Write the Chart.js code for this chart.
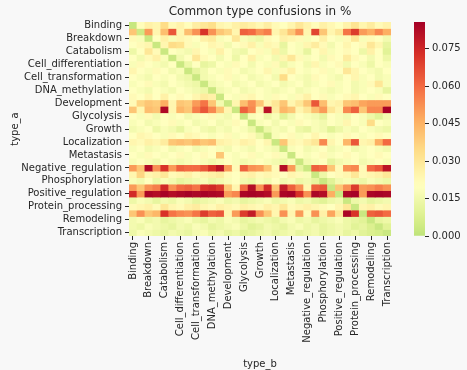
<!DOCTYPE html>
<html>
<head>
<meta charset="utf-8">
<script src="https://cdn.jsdelivr.net/npm/chart.js@4"></script>
<style>
  html, body { margin: 0; padding: 0; background: #f8f8f8; }
  #wrap { position: relative; width: 467px; height: 370px; }
  #heat { position: absolute; left: 0; top: 0; }
  #cbar { position: absolute; left: 395px; top: 0; }
</style>
</head>
<body>
<div id="wrap">
  <canvas id="heat" width="467" height="370"></canvas>
  <canvas id="cbar" width="72" height="370"></canvas>
</div>
<script>
// event types, same order on both axes (only every other one gets a label)
const typeA = ["Binding", "Blood_vessel_development", "Breakdown", "Carcinogenesis", "Catabolism",
  "Cell_death", "Cell_differentiation", "Cell_proliferation", "Cell_transformation", "DNA_demethylation",
  "DNA_methylation", "Dephosphorylation", "Development", "Gene_expression", "Glycolysis", "Glycosylation",
  "Growth", "Infection", "Localization", "Metabolism", "Metastasis", "Mutation", "Negative_regulation",
  "Pathway", "Phosphorylation", "Planned_process", "Positive_regulation", "Protein_catabolism",
  "Protein_processing", "Regulation", "Remodeling", "Synthesis", "Transcription"];
const typeB = typeA.slice();

// one row per type_a, fraction of confusions with each type_b
const binding = [0.002, 0.021, 0.026, 0.024, 0.034, 0.022, 0.025, 0.021, 0.027, 0.030, 0.033, 0.024, 0.022, 0.026, 0.028, 0.026, 0.023, 0.027, 0.022, 0.020, 0.024, 0.030, 0.025, 0.021, 0.026, 0.023, 0.020, 0.025, 0.031, 0.024, 0.028, 0.022, 0.025];
const bloodVesselDevelopment = [0.040, 0.004, 0.050, 0.024, 0.042, 0.064, 0.024, 0.042, 0.052, 0.072, 0.052, 0.040, 0.036, 0.024, 0.062, 0.060, 0.052, 0.056, 0.024, 0.030, 0.040, 0.052, 0.024, 0.068, 0.040, 0.024, 0.030, 0.058, 0.070, 0.050, 0.046, 0.054, 0.046];
const breakdown = [0.022, 0.018, 0.003, 0.020, 0.026, 0.018, 0.024, 0.022, 0.020, 0.026, 0.028, 0.018, 0.020, 0.030, 0.018, 0.016, 0.014, 0.022, 0.020, 0.026, 0.024, 0.022, 0.018, 0.020, 0.026, 0.020, 0.018, 0.022, 0.030, 0.018, 0.022, 0.020, 0.016];
const carcinogenesis = [0.020, 0.022, 0.024, 0.003, 0.024, 0.034, 0.032, 0.022, 0.018, 0.020, 0.024, 0.022, 0.016, 0.020, 0.022, 0.026, 0.018, 0.024, 0.022, 0.012, 0.020, 0.018, 0.024, 0.028, 0.022, 0.016, 0.020, 0.024, 0.020, 0.022, 0.030, 0.024, 0.012];
const catabolism = [0.014, 0.020, 0.030, 0.022, 0.003, 0.020, 0.018, 0.016, 0.024, 0.020, 0.018, 0.026, 0.020, 0.016, 0.014, 0.020, 0.022, 0.018, 0.026, 0.014, 0.020, 0.018, 0.012, 0.020, 0.024, 0.018, 0.020, 0.022, 0.020, 0.014, 0.026, 0.020, 0.010];
const cellDeath = [0.020, 0.016, 0.022, 0.026, 0.018, 0.003, 0.016, 0.020, 0.030, 0.022, 0.020, 0.016, 0.020, 0.014, 0.020, 0.026, 0.018, 0.020, 0.016, 0.024, 0.030, 0.022, 0.018, 0.020, 0.016, 0.022, 0.020, 0.028, 0.022, 0.020, 0.016, 0.020, 0.014];
const cellDifferentiation = [0.018, 0.022, 0.020, 0.018, 0.016, 0.020, 0.003, 0.014, 0.020, 0.012, 0.014, 0.020, 0.018, 0.022, 0.020, 0.016, 0.020, 0.018, 0.022, 0.014, 0.018, 0.020, 0.016, 0.024, 0.018, 0.020, 0.022, 0.016, 0.020, 0.018, 0.014, 0.020, 0.018];
const cellProliferation = [0.024, 0.020, 0.018, 0.022, 0.020, 0.016, 0.018, 0.003, 0.012, 0.016, 0.020, 0.018, 0.022, 0.020, 0.016, 0.018, 0.020, 0.024, 0.018, 0.022, 0.026, 0.020, 0.018, 0.020, 0.022, 0.018, 0.020, 0.030, 0.024, 0.020, 0.018, 0.016, 0.020];
const cellTransformation = [0.020, 0.018, 0.016, 0.020, 0.018, 0.020, 0.016, 0.014, 0.003, 0.016, 0.018, 0.020, 0.022, 0.018, 0.020, 0.016, 0.018, 0.020, 0.016, 0.034, 0.020, 0.018, 0.016, 0.022, 0.020, 0.018, 0.016, 0.020, 0.024, 0.018, 0.020, 0.016, 0.018];
const dnaDemethylation = [0.018, 0.020, 0.022, 0.018, 0.016, 0.020, 0.018, 0.016, 0.014, 0.003, 0.016, 0.018, 0.020, 0.016, 0.018, 0.020, 0.016, 0.018, 0.020, 0.016, 0.018, 0.020, 0.016, 0.018, 0.020, 0.022, 0.018, 0.020, 0.016, 0.018, 0.022, 0.030, 0.018];
const dnaMethylation = [0.020, 0.018, 0.016, 0.020, 0.018, 0.016, 0.020, 0.018, 0.016, 0.014, 0.003, 0.016, 0.018, 0.020, 0.016, 0.018, 0.020, 0.018, 0.016, 0.018, 0.020, 0.016, 0.018, 0.020, 0.018, 0.016, 0.018, 0.020, 0.016, 0.018, 0.020, 0.018, 0.012];
const dephosphorylation = [0.022, 0.020, 0.024, 0.020, 0.026, 0.020, 0.022, 0.020, 0.024, 0.028, 0.026, 0.003, 0.020, 0.018, 0.022, 0.024, 0.020, 0.018, 0.022, 0.020, 0.018, 0.022, 0.026, 0.020, 0.022, 0.018, 0.020, 0.022, 0.024, 0.020, 0.018, 0.022, 0.020];
const development = [0.022, 0.036, 0.040, 0.038, 0.046, 0.024, 0.040, 0.038, 0.050, 0.058, 0.040, 0.016, 0.003, 0.024, 0.042, 0.052, 0.040, 0.024, 0.030, 0.040, 0.024, 0.030, 0.040, 0.064, 0.042, 0.024, 0.026, 0.040, 0.042, 0.048, 0.050, 0.050, 0.050];
const geneExpression = [0.040, 0.024, 0.042, 0.040, 0.083, 0.024, 0.044, 0.040, 0.056, 0.064, 0.054, 0.040, 0.024, 0.003, 0.062, 0.054, 0.024, 0.080, 0.028, 0.044, 0.040, 0.024, 0.030, 0.042, 0.050, 0.030, 0.024, 0.054, 0.062, 0.040, 0.054, 0.054, 0.085];
const glycolysis = [0.020, 0.018, 0.022, 0.016, 0.020, 0.018, 0.020, 0.016, 0.018, 0.020, 0.022, 0.018, 0.016, 0.020, 0.003, 0.018, 0.020, 0.014, 0.018, 0.010, 0.016, 0.020, 0.018, 0.016, 0.012, 0.020, 0.018, 0.016, 0.020, 0.018, 0.014, 0.010, 0.016];
const glycosylation = [0.018, 0.020, 0.016, 0.018, 0.020, 0.022, 0.018, 0.020, 0.016, 0.018, 0.020, 0.016, 0.018, 0.022, 0.020, 0.003, 0.018, 0.020, 0.016, 0.020, 0.018, 0.022, 0.020, 0.018, 0.016, 0.020, 0.018, 0.024, 0.020, 0.018, 0.034, 0.020, 0.018];
const growth = [0.016, 0.018, 0.020, 0.014, 0.018, 0.016, 0.012, 0.018, 0.020, 0.016, 0.014, 0.018, 0.016, 0.020, 0.018, 0.014, 0.003, 0.014, 0.018, 0.016, 0.020, 0.014, 0.012, 0.018, 0.016, 0.010, 0.014, 0.018, 0.016, 0.020, 0.018, 0.016, 0.014];
const infection = [0.020, 0.024, 0.022, 0.020, 0.018, 0.022, 0.020, 0.024, 0.022, 0.020, 0.018, 0.020, 0.022, 0.018, 0.020, 0.022, 0.014, 0.003, 0.018, 0.020, 0.022, 0.018, 0.020, 0.024, 0.020, 0.018, 0.020, 0.022, 0.020, 0.018, 0.020, 0.022, 0.020];
const localization = [0.024, 0.022, 0.026, 0.024, 0.028, 0.040, 0.042, 0.040, 0.044, 0.040, 0.042, 0.026, 0.024, 0.022, 0.026, 0.024, 0.020, 0.024, 0.003, 0.040, 0.024, 0.022, 0.026, 0.030, 0.054, 0.024, 0.020, 0.044, 0.064, 0.024, 0.026, 0.046, 0.060];
const metabolism = [0.018, 0.020, 0.016, 0.018, 0.020, 0.016, 0.018, 0.020, 0.016, 0.018, 0.020, 0.018, 0.016, 0.020, 0.018, 0.016, 0.020, 0.018, 0.016, 0.003, 0.018, 0.020, 0.016, 0.018, 0.020, 0.016, 0.018, 0.020, 0.016, 0.018, 0.020, 0.018, 0.016];
const metastasis = [0.020, 0.018, 0.022, 0.020, 0.018, 0.020, 0.022, 0.018, 0.020, 0.022, 0.020, 0.040, 0.020, 0.018, 0.020, 0.022, 0.018, 0.020, 0.022, 0.018, 0.003, 0.020, 0.018, 0.020, 0.022, 0.018, 0.020, 0.022, 0.020, 0.018, 0.020, 0.022, 0.020];
const mutation = [0.018, 0.020, 0.018, 0.016, 0.020, 0.018, 0.016, 0.018, 0.020, 0.018, 0.016, 0.018, 0.020, 0.018, 0.016, 0.018, 0.020, 0.018, 0.016, 0.014, 0.018, 0.003, 0.016, 0.018, 0.020, 0.012, 0.016, 0.018, 0.020, 0.016, 0.018, 0.020, 0.018];
const negativeRegulation = [0.050, 0.040, 0.082, 0.052, 0.072, 0.050, 0.062, 0.060, 0.060, 0.064, 0.072, 0.080, 0.050, 0.022, 0.062, 0.052, 0.050, 0.040, 0.022, 0.082, 0.050, 0.012, 0.003, 0.062, 0.060, 0.040, 0.022, 0.052, 0.054, 0.022, 0.060, 0.064, 0.080];
const pathway = [0.024, 0.036, 0.024, 0.026, 0.030, 0.022, 0.024, 0.026, 0.022, 0.024, 0.026, 0.028, 0.022, 0.020, 0.024, 0.026, 0.022, 0.024, 0.022, 0.020, 0.024, 0.022, 0.018, 0.003, 0.014, 0.020, 0.022, 0.024, 0.030, 0.022, 0.024, 0.026, 0.030];
const phosphorylation = [0.018, 0.016, 0.020, 0.014, 0.018, 0.016, 0.012, 0.014, 0.016, 0.018, 0.014, 0.016, 0.018, 0.020, 0.016, 0.014, 0.018, 0.016, 0.020, 0.016, 0.018, 0.014, 0.016, 0.012, 0.003, 0.010, 0.016, 0.018, 0.016, 0.014, 0.018, 0.016, 0.014];
const plannedProcess = [0.050, 0.040, 0.052, 0.056, 0.074, 0.052, 0.060, 0.062, 0.058, 0.072, 0.074, 0.070, 0.040, 0.024, 0.060, 0.082, 0.052, 0.074, 0.040, 0.078, 0.062, 0.052, 0.024, 0.062, 0.064, 0.003, 0.040, 0.052, 0.070, 0.050, 0.052, 0.056, 0.052];
const positiveRegulation = [0.074, 0.050, 0.084, 0.082, 0.085, 0.082, 0.084, 0.0856, 0.084, 0.085, 0.084, 0.083, 0.050, 0.054, 0.084, 0.085, 0.084, 0.082, 0.050, 0.084, 0.085, 0.072, 0.052, 0.084, 0.082, 0.046, 0.003, 0.084, 0.085, 0.050, 0.084, 0.085, 0.084];
const proteinCatabolism = [0.014, 0.018, 0.016, 0.012, 0.016, 0.014, 0.018, 0.016, 0.012, 0.014, 0.016, 0.018, 0.014, 0.016, 0.012, 0.014, 0.016, 0.018, 0.014, 0.016, 0.018, 0.014, 0.016, 0.012, 0.010, 0.014, 0.016, 0.003, 0.014, 0.016, 0.012, 0.014, 0.016];
const proteinProcessing = [0.022, 0.024, 0.026, 0.022, 0.030, 0.024, 0.022, 0.026, 0.028, 0.024, 0.022, 0.026, 0.024, 0.022, 0.026, 0.024, 0.022, 0.026, 0.024, 0.030, 0.022, 0.024, 0.026, 0.024, 0.022, 0.020, 0.024, 0.030, 0.003, 0.024, 0.026, 0.022, 0.024];
const regulation = [0.040, 0.052, 0.040, 0.044, 0.072, 0.058, 0.054, 0.052, 0.058, 0.070, 0.062, 0.064, 0.024, 0.050, 0.070, 0.078, 0.052, 0.040, 0.024, 0.052, 0.024, 0.050, 0.022, 0.052, 0.026, 0.048, 0.030, 0.084, 0.072, 0.003, 0.062, 0.064, 0.060];
const remodeling = [0.016, 0.018, 0.014, 0.016, 0.012, 0.014, 0.016, 0.018, 0.014, 0.012, 0.016, 0.014, 0.018, 0.016, 0.012, 0.014, 0.016, 0.014, 0.012, 0.016, 0.018, 0.014, 0.016, 0.012, 0.014, 0.016, 0.018, 0.014, 0.012, 0.010, 0.003, 0.012, 0.014];
const synthesis = [0.016, 0.014, 0.018, 0.016, 0.014, 0.012, 0.016, 0.014, 0.018, 0.016, 0.012, 0.014, 0.016, 0.018, 0.014, 0.010, 0.012, 0.016, 0.014, 0.012, 0.016, 0.018, 0.014, 0.016, 0.012, 0.014, 0.016, 0.014, 0.010, 0.012, 0.008, 0.003, 0.010];
const transcription = [0.014, 0.018, 0.016, 0.014, 0.012, 0.016, 0.014, 0.012, 0.016, 0.018, 0.014, 0.016, 0.012, 0.014, 0.010, 0.012, 0.014, 0.016, 0.012, 0.014, 0.016, 0.012, 0.014, 0.016, 0.012, 0.014, 0.016, 0.012, 0.014, 0.010, 0.008, 0.006, 0.003];

const cbarTicks = [0, 0.015, 0.030, 0.045, 0.060, 0.075];

const confusion = [binding, bloodVesselDevelopment, breakdown, carcinogenesis, catabolism, cellDeath,
  cellDifferentiation, cellProliferation, cellTransformation, dnaDemethylation, dnaMethylation,
  dephosphorylation, development, geneExpression, glycolysis, glycosylation, growth, infection,
  localization, metabolism, metastasis, mutation, negativeRegulation, pathway, phosphorylation,
  plannedProcess, positiveRegulation, proteinCatabolism, proteinProcessing, regulation, remodeling,
  synthesis, transcription];

// colour map: RdYlGn reversed, centred like seaborn does with center=0.02
const rdylgnR = ["#006837", "#1a9850", "#66bd63", "#a6d96a", "#d9ef8b", "#ffffbf",
  "#fee08b", "#fdae61", "#f46d43", "#d73027", "#a50026"];
const vmax = Math.max(...confusion.flat());
const center = 0.02;

function hexRgb(h) {
  return [1, 3, 5].map(i => parseInt(h.substr(i, 2), 16));
}
function colorFor(v) {
  let p = 0.5 + (v - center) / (2 * (vmax - center));
  p = Math.min(1, Math.max(0, p));
  const x = p * 10;
  const i = Math.min(9, Math.floor(x));
  const t = x - i;
  const a = hexRgb(rdylgnR[i]), b = hexRgb(rdylgnR[i + 1]);
  const c = a.map((av, k) => Math.round(av + (b[k] - av) * t));
  return `rgb(${c[0]},${c[1]},${c[2]})`;
}

Chart.defaults.font.family = "'DejaVu Sans', sans-serif";
Chart.defaults.font.size = 10;
Chart.defaults.color = "#262626";

const tickGrid = { display: true, drawOnChartArea: false, drawTicks: true, tickLength: 4, tickColor: "#262626", offset: false };

new Chart(document.getElementById("heat"), {
  type: "bar",
  data: {
    labels: typeB,
    datasets: confusion.map((row, r) => ({
      label: typeA[r],
      data: row.map(() => 1),
      backgroundColor: row.map(colorFor),
      borderWidth: 0,
      barPercentage: 1,
      categoryPercentage: 1
    }))
  },
  options: {
    responsive: false,
    devicePixelRatio: 1,
    animation: false,
    layout: { padding: { left: 0, right: 76, top: 0, bottom: 0 } },
    plugins: {
      legend: { display: false },
      tooltip: { enabled: false },
      title: {
        display: true,
        text: "Common type confusions in %",
        fullSize: false,
        color: "#262626",
        font: { size: 12, weight: "normal" },
        padding: { top: 5, bottom: 2.6 }
      }
    },
    scales: {
      x: {
        stacked: true,
        offset: true,
        grid: tickGrid,
        border: { display: false },
        ticks: { autoSkip: false, minRotation: 90, maxRotation: 90, padding: 2 },
        title: { display: true, text: "type_b", padding: { top: 9, bottom: 0 } },
        afterBuildTicks: s => { s.ticks = s.ticks.filter((t, i) => i % 2 === 0); },
        afterFit: s => { s.height = 134; }
      },
      y: {
        stacked: true,
        reverse: true,
        min: 0,
        max: typeA.length,
        grid: tickGrid,
        border: { display: false },
        ticks: { autoSkip: false, padding: 3, callback: v => typeA[Math.floor(v)] },
        title: { display: true, text: "type_a", padding: { top: 9, bottom: 0 } },
        afterBuildTicks: s => {
          s.ticks = typeA.map((_, i) => i).filter(i => i % 2 === 0).map(i => ({ value: i + 0.5 }));
        },
        afterFit: s => { s.width = 129; }
      }
    }
  }
});

// colour bar
new Chart(document.getElementById("cbar"), {
  type: "bar",
  data: {
    labels: [""],
    datasets: [{
      data: [vmax],
      borderWidth: 0,
      barPercentage: 1,
      categoryPercentage: 1,
      backgroundColor: ctx => {
        const area = ctx.chart.chartArea;
        if (!area) return null;
        const g = ctx.chart.ctx.createLinearGradient(0, area.bottom, 0, area.top);
        for (let i = 0; i <= 40; i++) g.addColorStop(i / 40, colorFor(vmax * i / 40));
        return g;
      }
    }]
  },
  options: {
    responsive: false,
    devicePixelRatio: 1,
    animation: false,
    layout: { padding: { left: 19, right: 0, top: 22, bottom: 134 } },
    plugins: { legend: { display: false }, tooltip: { enabled: false } },
    scales: {
      x: { display: false },
      y: {
        position: "right",
        min: 0,
        max: vmax,
        grid: tickGrid,
        border: { display: false },
        ticks: { padding: 3, callback: v => v.toFixed(3) },
        afterBuildTicks: s => { s.ticks = cbarTicks.map(v => ({ value: v })); },
        afterFit: s => { s.width = 42; }
      }
    }
  }
});
</script>
</body>
</html>
